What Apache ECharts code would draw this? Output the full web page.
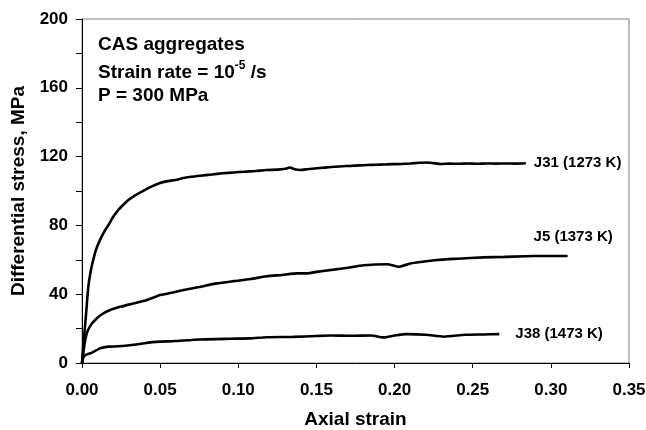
<!DOCTYPE html>
<html>
<head>
<meta charset="utf-8">
<script src="https://cdn.jsdelivr.net/npm/echarts@6/dist/echarts.min.js"></script>
<style>html,body{margin:0;padding:0;background:#fff;}#c{width:646px;height:430px;}</style>
</head>
<body>
<div id="c"></div>
<script>
var seriesNames = ['J31 (1273 K)', 'J5 (1373 K)', 'J38 (1473 K)'];
var xTicks = [0, 0.05, 0.10, 0.15, 0.20, 0.25, 0.30, 0.35];
var yTicks = [0, 40, 80, 120, 160, 200];

var j31Strain = [0, 0.0008, 0.0019, 0.003, 0.004, 0.0055, 0.0072, 0.009, 0.0115, 0.014, 0.0169, 0.020, 0.0233, 0.0265, 0.0297, 0.034, 0.0382, 0.043, 0.049, 0.054, 0.0596, 0.065, 0.070, 0.0756, 0.083, 0.090, 0.097, 0.104, 0.111, 0.118, 0.125, 0.130, 0.133, 0.136, 0.1397, 0.145, 0.150, 0.155, 0.161, 0.167, 0.172, 0.178, 0.1825, 0.188, 0.193, 0.198, 0.204, 0.210, 0.216, 0.221, 0.225, 0.2295, 0.235, 0.241, 0.247, 0.253, 0.259, 0.265, 0.271, 0.277, 0.284];
var j31Stress = [0, 10, 21, 33, 44, 53, 60, 66, 71.5, 76, 80.2, 85, 89, 92, 94.8, 97.5, 99.6, 102, 104.4, 105.6, 106.4, 107.5, 108.3, 108.9, 109.6, 110.3, 110.8, 111.2, 111.6, 112.2, 112.4, 112.9, 113.7, 112.6, 112.2, 112.8, 113.2, 113.6, 114.1, 114.4, 114.6, 114.9, 115.1, 115.3, 115.4, 115.6, 115.7, 116.0, 116.4, 116.6, 116.2, 115.7, 115.9, 115.8, 116.0, 115.8, 116.0, 115.9, 116.0, 115.9, 116.1];

var j5Strain = [0, 0.001, 0.002, 0.0034, 0.006, 0.0094, 0.013, 0.018, 0.025, 0.0329, 0.0415, 0.05, 0.058, 0.065, 0.075, 0.0863, 0.097, 0.1077, 0.118, 0.128, 0.1376, 0.144, 0.150, 0.161, 0.170, 0.1803, 0.1953, 0.2028, 0.210, 0.218, 0.227, 0.240, 0.257, 0.270, 0.289, 0.300, 0.3107];
var j5Stress = [0, 7, 13, 18.2, 22.5, 25.9, 28.5, 30.8, 32.8, 34.6, 36.6, 39.5, 41, 42.4, 44.2, 46.3, 47.6, 48.8, 50.4, 51.2, 52.1, 52.1, 53.0, 54.3, 55.4, 56.8, 57.4, 55.9, 57.9, 58.9, 59.9, 60.6, 61.4, 61.7, 62.2, 62.2, 62.2];

var j38Strain = [0, 0.0008, 0.0019, 0.0062, 0.0115, 0.0169, 0.0276, 0.0382, 0.0436, 0.0596, 0.0756, 0.095, 0.1077, 0.118, 0.135, 0.150, 0.159, 0.172, 0.185, 0.193, 0.200, 0.208, 0.220, 0.2316, 0.245, 0.257, 0.267];
var j38Stress = [0, 3, 4.5, 5.9, 8.5, 9.5, 10, 11.2, 12.0, 12.8, 13.7, 14.1, 14.3, 15.0, 15.2, 15.7, 16.0, 15.8, 16.0, 14.9, 16.0, 16.8, 16.4, 15.3, 16.4, 16.6, 16.8];

function pairs(xs, ys) { return xs.map(function (x, i) { return [x, ys[i]]; }); }

var FONT = 'Arial, "Liberation Sans", sans-serif';
var chart = echarts.init(document.getElementById('c'), null, {renderer: 'canvas'});

function lineSeries(name, xs, ys, labelOpt) {
  return {
    name: name, type: 'line', showSymbol: false, symbol: 'none', smooth: 0.2,
    data: pairs(xs, ys), animation: false,
    lineStyle: {color: '#000', width: 2.6},
    endLabel: Object.assign({
      show: true, formatter: '{a}', color: '#000', fontFamily: FONT,
      fontWeight: 'bold', fontSize: 15
    }, labelOpt)
  };
}

chart.setOption({
  animation: false,
  backgroundColor: '#fff',
  grid: {left: 82, right: 17, top: 19, bottom: 67, containLabel: false, outerBoundsMode: 'none',
    show: true, borderColor: '#808080', borderWidth: 1},
  xAxis: {
    type: 'value', min: 0, max: 0.35, interval: 0.05,
    name: 'Axial strain', nameLocation: 'middle', nameGap: 47,
    nameTextStyle: {fontFamily: FONT, fontWeight: 'bold', fontSize: 19, color: '#000', verticalAlign: 'top'},
    axisLine: {show: true, lineStyle: {color: '#000', width: 1}},
    axisTick: {show: true, inside: false, length: 5, lineStyle: {color: '#000'}},
    axisLabel: {margin: 19, fontFamily: FONT, fontWeight: 'bold', fontSize: 17, color: '#000',
      formatter: function (v) { return xTicks.some(function (t) { return Math.abs(t - v) < 1e-9; }) ? v.toFixed(2) : ''; }},
    splitLine: {show: false}
  },
  yAxis: {
    type: 'value', min: 0, max: 200, interval: 20,
    name: 'Differential stress, MPa', nameLocation: 'middle', nameGap: 41, nameRotate: 90,
    nameTextStyle: {fontFamily: FONT, fontWeight: 'bold', fontSize: 19, color: '#000'},
    axisLine: {show: true, lineStyle: {color: '#000', width: 1}},
    axisTick: {show: true, inside: false, length: 6, lineStyle: {color: '#000'}},
    axisLabel: {margin: 14, fontFamily: FONT, fontWeight: 'bold', fontSize: 17, color: '#000',
      formatter: function (v) { return yTicks.indexOf(v) >= 0 ? String(v) : ''; }},
    splitLine: {show: false}
  },
  graphic: [
    {type: 'text', x: 98, y: 44.5, style: {text: 'CAS aggregates', font: 'bold 19px ' + FONT, fill: '#000', verticalAlign: 'middle'}},
    {type: 'text', x: 98, y: 72.5, style: {
      text: '{a|Strain rate = 10}{s|-5}{a| /s}', verticalAlign: 'middle', fill: '#000',
      rich: {
        a: {fontFamily: FONT, fontWeight: 'bold', fontSize: 19, lineHeight: 26, fill: '#000', verticalAlign: 'middle'},
        s: {fontFamily: FONT, fontWeight: 'bold', fontSize: 12, lineHeight: 26, fill: '#000', verticalAlign: 'top'}
      }}},
    {type: 'text', x: 98, y: 95.5, style: {text: 'P = 300 MPa', font: 'bold 19px ' + FONT, fill: '#000', verticalAlign: 'middle'}}
  ],
  series: [
    lineSeries(seriesNames[0], j31Strain, j31Stress, {distance: 8}),
    lineSeries(seriesNames[1], j5Strain, j5Stress, {distance: 8, offset: [-42, -19]}),
    lineSeries(seriesNames[2], j38Strain, j38Stress, {distance: 16})
  ]
});
</script>
</body>
</html>
